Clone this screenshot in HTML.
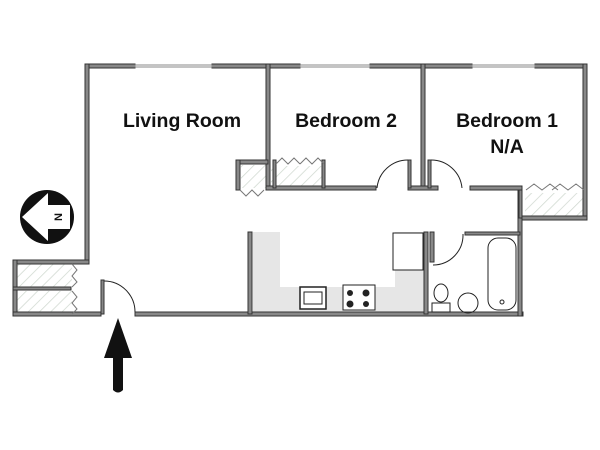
<!DOCTYPE html>
<html><head><meta charset="utf-8"><style>
html,body{margin:0;padding:0;background:#fff;width:600px;height:450px;overflow:hidden}
text{font-family:"Liberation Sans",sans-serif;font-weight:bold;fill:#111}
</style></head><body>
<svg width="600" height="450" viewBox="0 0 600 450" xmlns="http://www.w3.org/2000/svg">
<defs>
<pattern id="h" width="8" height="8" patternUnits="userSpaceOnUse" patternTransform="rotate(45)">
<line x1="0" y1="0" x2="0" y2="8" stroke="#cfd8cf" stroke-width="1.5"/></pattern>
</defs>
<path d="M253 232 H280 V287 H395 V232 H425 V313 H253 Z" fill="#e6e6e6"/>
<rect x="16" y="264" width="56" height="24" fill="url(#h)"/>
<rect x="16" y="291" width="56" height="22" fill="url(#h)"/>
<rect x="241" y="165" width="25" height="23" fill="url(#h)"/>
<rect x="271" y="166" width="53" height="20" fill="url(#h)"/>
<rect x="525" y="193" width="59" height="23" fill="url(#h)"/>
<g stroke="#333" stroke-width="1" fill="#888">
<rect x="85" y="64" width="50" height="4"/><rect x="212" y="64" width="88" height="4"/><rect x="370" y="64" width="102" height="4"/><rect x="535" y="64" width="52" height="4"/>
<rect x="85" y="64" width="4" height="200"/>
<rect x="13" y="260" width="76" height="4"/>
<rect x="13" y="260" width="4" height="56"/>
<rect x="13" y="287" width="58" height="3"/>
<rect x="13" y="312" width="88" height="4"/><rect x="135" y="312" width="388" height="4"/>
<rect x="583" y="64" width="4" height="156"/>
<rect x="518" y="216" width="69" height="4"/>
<rect x="518" y="188" width="4" height="128"/>
<rect x="266" y="64" width="4" height="126"/>
<rect x="421" y="64" width="4" height="126"/>
<rect x="236" y="160" width="32" height="4"/>
<rect x="236" y="160" width="4" height="30"/>
<rect x="266" y="186" width="110" height="4"/>
<rect x="408" y="186" width="30" height="4"/>
<rect x="470" y="186" width="52" height="4"/>
<rect x="273" y="160" width="3" height="28"/><rect x="322" y="160" width="3" height="28"/>
<rect x="519" y="190" width="3" height="28"/>
<rect x="248" y="232" width="4" height="82"/>
<rect x="424" y="232" width="4" height="82"/>
<rect x="430" y="232" width="4" height="30"/>
<rect x="465" y="232" width="55" height="3"/>
<rect x="101" y="280" width="3" height="34"/>
<rect x="408" y="160" width="3" height="28"/><rect x="428" y="160" width="3" height="28"/>
</g>
<g fill="#fff" stroke="#888" stroke-width="1">
<rect x="135" y="65" width="77" height="2"/><rect x="300" y="65" width="70" height="2"/><rect x="472" y="65" width="63" height="2"/>
</g>
<g fill="none" stroke="#222" stroke-width="1">
<path d="M104 281 A31 31 0 0 1 135 312"/>
<path d="M408 160 A31 31 0 0 0 377 188"/>
<path d="M431 160 A31 31 0 0 1 462 188"/>
<path d="M433 265 A30 30 0 0 0 463 234"/>
<path d="M72 264 l5 6 l-5 6 l5 6 l-5 5 M72 291 l5 6 l-5 6 l5 6 l-5 5" stroke="#777"/>
<path d="M276 164 l6 -6 l6 6 l6 -6 l6 6 M300 164 l6 -6 l6 6 l6 -6 l6 6" stroke="#777"/>
<path d="M240 190 l6 6 l6 -6 l6 6 l6 -6" stroke="#777"/>
<path d="M526 190 l8 -6 l8 6 l8 -6 l8 6 M552 190 l8 -6 l8 6 l8 -6 l8 6" stroke="#777"/>
<rect x="393" y="233" width="30" height="37" fill="#fff"/>
<rect x="300" y="287" width="26" height="22" fill="#fff" stroke-width="1.5"/>
<rect x="304" y="292" width="18" height="12"/>
<rect x="343" y="285" width="32" height="25" fill="#fff"/>
<rect x="488" y="238" width="28" height="72" rx="10" fill="#fff"/>
<circle cx="502" cy="302" r="2"/>
<ellipse cx="441" cy="293" rx="7" ry="9"/>
<rect x="432" y="303" width="18" height="9" fill="#fff"/>
<circle cx="468" cy="303" r="10"/>
</g>
<g fill="#222"><circle cx="350" cy="293" r="3"/><circle cx="366" cy="293" r="3.5"/><circle cx="350" cy="304" r="3.5"/><circle cx="366" cy="304" r="3"/></g>
<circle cx="47" cy="217" r="27" fill="#111"/>
<path d="M22 217 L48 193 V205 H70 V229 H48 V241 Z" fill="#fff"/>
<text x="58" y="217" font-size="11" transform="rotate(-90 58 217)" text-anchor="middle" dy="4">N</text>
<path d="M118 318 L132 358 H123 V390 Q118 395 113 390 V358 H104 Z" fill="#111"/>
<text x="182" y="127" font-size="19.5" text-anchor="middle">Living Room</text>
<text x="346" y="127" font-size="19.5" text-anchor="middle">Bedroom 2</text>
<text x="507" y="127" font-size="19.5" text-anchor="middle">Bedroom 1</text>
<text x="507" y="153" font-size="19.5" text-anchor="middle">N/A</text>
</svg>
</body></html>
